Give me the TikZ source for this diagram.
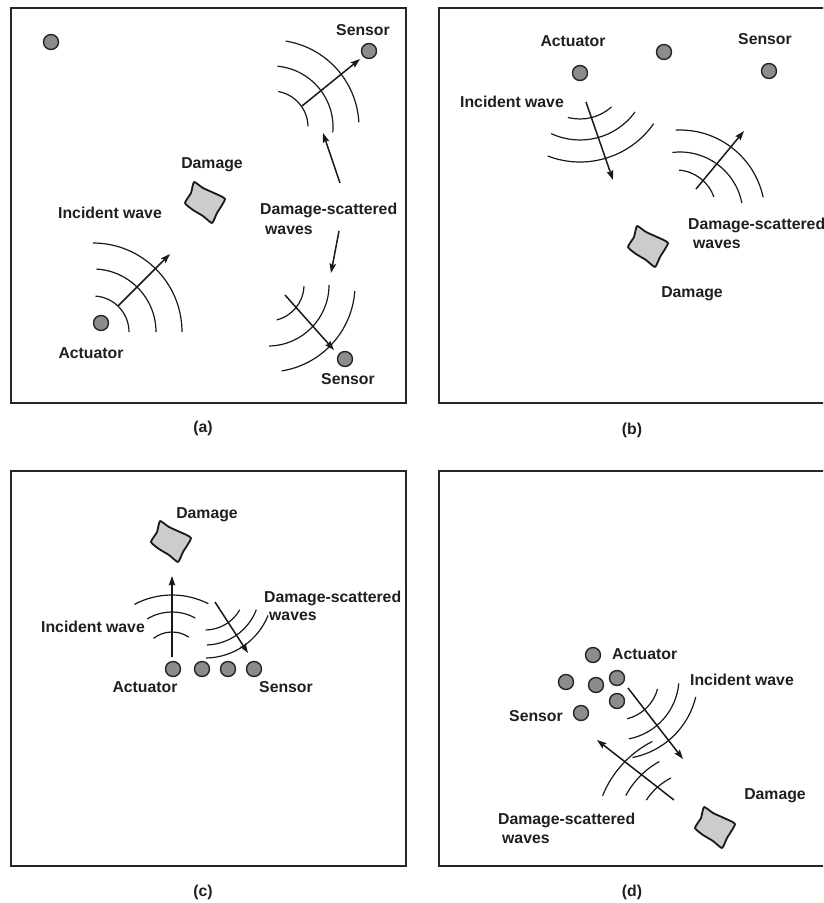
\documentclass[tikz,border=0pt]{standalone}
\usepackage{fontspec}
\setmainfont{Liberation Sans}
\usetikzlibrary{arrows.meta}
\newcommand\wv[5]{\draw[wave] ([shift={(#4:#3)}]#1,#2) arc[start angle=#4,end angle=#5,radius=#3];}
\newcommand\dmgshape[2]{\draw[dmg,shift={(#1,#2)}] plot[smooth cycle,tension=0.3] coordinates {(-11,-21) (-14,-10) (-20,0) (-12,7) (-2,13) (7,20) (12,10) (20,-4) (9,-10) (-2,-15)};}
\begin{document}
\begin{tikzpicture}[x=1pt,y=1pt,yscale=-1,
  frame/.style={draw=black!85,line width=2pt},
  wave/.style={line width=1.2pt,black!90},
  arr/.style={line width=1.5pt,black!90,-{Stealth[length=9.5pt,width=6.5pt,inset=1.5pt]}},
  sens/.style={circle,draw=black!85,fill=black!45,line width=1.4pt,minimum size=15pt,inner sep=0pt},
  dmg/.style={draw=black!90,line width=1.8pt,fill=black!20,line join=round},
  lbl/.style={font=\fontsize{15.8}{19}\selectfont\bfseries,inner sep=0pt,text=black!88}]
\useasboundingbox (0,0) rectangle (823,903);
\clip (0,0) rectangle (823,903);

% ---------------- panel (a)
\draw[frame] (11,7.5) rectangle (406,403);
\node[sens] (a0) at (51,42) {};
\node[sens] (aS1) at (369,51) {};
\node[lbl,anchor=base] (laS1) at (363,35.5) {Sensor};
\wv{272}{127}{36}{-80}{-1}
\wv{272}{127}{61}{-85}{5}
\wv{272}{127}{87}{-81}{-3}
\draw[arr] (302,106) -- (360,59);
\node[sens] (aA) at (101,323) {};
\node[lbl,anchor=base] (laA) at (91,358.5) {Actuator};
\wv{93}{332}{36}{-86}{0}
\wv{93}{332}{63}{-87}{0}
\wv{93}{332}{89}{-90}{0}
\draw[arr] (118,306) -- (170,254);
\node[lbl,anchor=base] (laI) at (110,218.5) {Incident wave};
\dmgshape{205}{203}
\node[lbl,anchor=base] (laD) at (212,168.5) {Damage};
\node[lbl,anchor=base west] (laDS1) at (260,214.5) {Damage-scattered};
\node[lbl,anchor=base west] (laDS2) at (265,234.5) {waves};
\draw[arr] (340,183) -- (323,133);
\draw[arr] (339,231) -- (331,273);
\wv{268}{285}{36}{76}{2}
\wv{268}{285}{61}{89}{0}
\wv{268}{285}{87}{81}{4}
\draw[arr] (285,295) -- (334,350);
\node[sens] (aS2) at (345,359) {};
\node[lbl,anchor=base] (laS2) at (348,384.5) {Sensor};
\node[lbl] (capa) at (203,428) {(a)};

% ---------------- panel (b)
\draw[frame] (439,7.5) rectangle (830,403);
\node[sens] (bA) at (580,73) {};
\node[sens] (bM) at (664,52) {};
\node[sens] (bS) at (769,71) {};
\node[lbl,anchor=base] (lbA) at (573,46.5) {Actuator};
\node[lbl,anchor=base] (lbS) at (765,44.5) {Sensor};
\node[lbl,anchor=base] (lbI) at (512,107.5) {Incident wave};
\wv{580}{72}{47}{105}{48}
\wv{580}{72}{68}{115}{36}
\wv{580}{72}{90}{111}{35}
\draw[arr] (586,102) -- (613,180);
\wv{676}{210}{40}{-86}{-19}
\wv{680}{215}{63}{-97}{-11}
\wv{680}{215}{85}{-93}{-12}
\draw[arr] (696,189) -- (744,131);
\node[lbl,anchor=base west] (lbDS1) at (688,229.5) {Damage-scattered};
\node[lbl,anchor=base west] (lbDS2) at (693,248.5) {waves};
\dmgshape{648}{247}
\node[lbl,anchor=base] (lbD) at (692,297.5) {Damage};
\node[lbl] (capb) at (632,430) {(b)};

% ---------------- panel (c)
\draw[frame] (11,471) rectangle (406,866);
\dmgshape{171}{542}
\node[lbl,anchor=base] (lcD) at (207,518.5) {Damage};
\draw[arr] (172,657) -- (172,576);
\wv{172}{662}{30}{-128}{-56}
\wv{172}{660}{48}{-121}{-61}
\wv{172}{675}{80}{-118}{-63}
\node[sens] (cA) at (173,669) {};
\node[sens] (cS1) at (202,669) {};
\node[sens] (cS2) at (228,669) {};
\node[sens] (cS3) at (254,669) {};
\node[lbl,anchor=base] (lcA) at (145,692.5) {Actuator};
\node[lbl,anchor=base] (lcS) at (286,692.5) {Sensor};
\node[lbl,anchor=base] (lcI) at (93,632.5) {Incident wave};
\node[lbl,anchor=base west] (lcDS1) at (264,602.5) {Damage-scattered};
\node[lbl,anchor=base west] (lcDS2) at (269,620.5) {waves};
\wv{205}{590}{40}{89}{30}
\wv{205}{590}{55}{88}{21}
\wv{205}{590}{68}{89}{22}
\draw[arr] (215,602) -- (248,653);
\node[lbl] (capc) at (203,892) {(c)};

% ---------------- panel (d)
\draw[frame] (439,471) rectangle (830,866);
\node[sens] (d1) at (593,655) {};
\node[sens] (d2) at (566,682) {};
\node[sens] (d3) at (596,685) {};
\node[sens] (d4) at (617,678) {};
\node[sens] (d5) at (617,701) {};
\node[sens] (d6) at (581,713) {};
\node[lbl,anchor=base west] (ldA) at (612,659.5) {Actuator};
\node[lbl,anchor=base] (ldI) at (742,685.5) {Incident wave};
\node[lbl,anchor=base] (ldS) at (536,721.5) {Sensor};
\node[lbl,anchor=base] (ldD) at (775,799.5) {Damage};
\node[lbl,anchor=base west] (ldDS1) at (498,824.5) {Damage-scattered};
\node[lbl,anchor=base west] (ldDS2) at (502,843.5) {waves};
\wv{617}{678}{42}{76}{15}
\wv{617}{678}{62}{79}{5}
\wv{617}{678}{81}{79}{13.5}
\draw[arr] (628,688) -- (683,759);
\wv{700}{835}{64}{-147}{-117}
\wv{700}{835}{84}{-152}{-119}
\wv{700}{835}{105}{-158}{-117}
\draw[arr] (674,800) -- (597,740);
\dmgshape{715}{828}
\node[lbl] (capd) at (632,892) {(d)};
\end{tikzpicture}
\end{document}
